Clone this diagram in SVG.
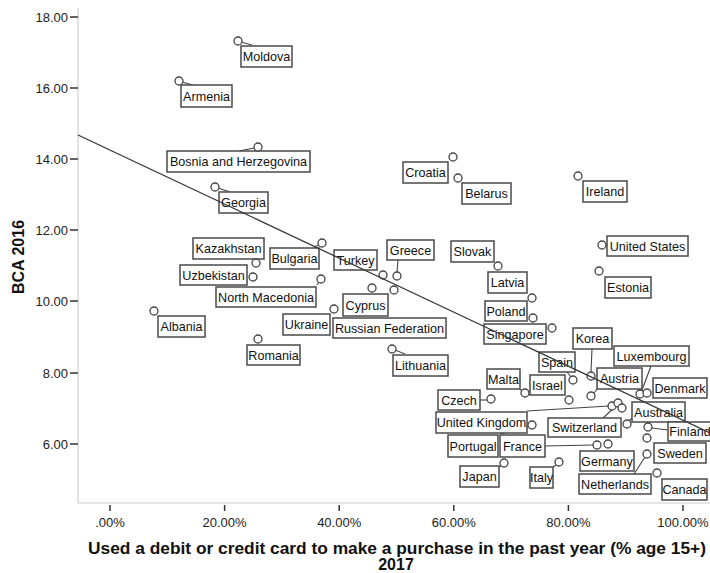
<svg xmlns="http://www.w3.org/2000/svg" width="710" height="573" viewBox="0 0 710 573">
<style>
.ax{stroke:#dcdcdc;stroke-width:1.6;fill:none}
.tk{stroke:#333;stroke-width:1.5}
.tl{font-family:"Liberation Sans",Arial,sans-serif;font-size:13px;fill:#222}
.lb rect{fill:#fff;stroke:#4a4a4a;stroke-width:1.5}
.lb text{font-family:"Liberation Sans",Arial,sans-serif;font-size:12.6px;fill:#111;text-anchor:middle}
.pt{fill:#fff;stroke:#444;stroke-width:1.3}
.ld{stroke:#444;stroke-width:1.1;fill:none}
.reg{stroke:#333;stroke-width:1.2;fill:none}
.tt{font-family:"Liberation Sans",Arial,sans-serif;font-weight:bold;font-size:16px;fill:#111}
</style>
<rect width="710" height="573" fill="#fff"/>
<g id="axes">
<line class="ax" x1="78" y1="8" x2="78" y2="503"/>
<line class="ax" x1="78" y1="503" x2="710" y2="503"/>
<g class="tk">
<line x1="70" y1="17" x2="78" y2="17"/><line x1="70" y1="88" x2="78" y2="88"/><line x1="70" y1="159" x2="78" y2="159"/><line x1="70" y1="230" x2="78" y2="230"/><line x1="70" y1="301" x2="78" y2="301"/><line x1="70" y1="373" x2="78" y2="373"/><line x1="70" y1="444" x2="78" y2="444"/>
<line x1="110" y1="505" x2="110" y2="511"/><line x1="224.6" y1="505" x2="224.6" y2="511"/><line x1="339.2" y1="505" x2="339.2" y2="511"/><line x1="453.8" y1="505" x2="453.8" y2="511"/><line x1="568.4" y1="505" x2="568.4" y2="511"/><line x1="683" y1="505" x2="683" y2="511"/>
</g>
<g class="tl" text-anchor="end">
<text x="68" y="21.5">18.00</text><text x="68" y="92.5">16.00</text><text x="68" y="163.5">14.00</text><text x="68" y="234.5">12.00</text><text x="68" y="305.5">10.00</text><text x="68" y="377.5">8.00</text><text x="68" y="448.5">6.00</text>
</g>
<g class="tl" text-anchor="middle">
<text x="110" y="527">.00%</text><text x="224.6" y="527">20.00%</text><text x="339.2" y="527">40.00%</text><text x="453.8" y="527">60.00%</text><text x="568.4" y="527">80.00%</text><text x="683" y="527">100.00%</text>
</g>
<text class="tt" transform="translate(24,257) rotate(-90)" text-anchor="middle">BCA 2016</text>
<text class="tt" x="397" y="554" text-anchor="middle" textLength="618" lengthAdjust="spacingAndGlyphs">Used a debit or credit card to make a purchase in the past year (% age 15+)</text>
<text class="tt" x="396" y="570" text-anchor="middle">2017</text>
</g>
<g id="connectors">
<line class="ld" x1="241" y1="42" x2="252" y2="45"/>
<line class="ld" x1="182" y1="82" x2="193" y2="85"/>
<line class="ld" x1="254" y1="148" x2="239" y2="151"/>
<line class="ld" x1="218" y1="188" x2="230" y2="192"/>
<line class="ld" x1="398" y1="260" x2="397" y2="272"/>
<line class="ld" x1="314" y1="247" x2="319" y2="245"/>
<line class="ld" x1="317" y1="285" x2="319" y2="282"/>
<line class="ld" x1="395" y1="350" x2="405" y2="354"/>
<line class="ld" x1="592" y1="349" x2="591" y2="372"/>
<line class="ld" x1="651" y1="366" x2="642" y2="390"/>
<line class="ld" x1="567" y1="372" x2="571" y2="377"/>
<line class="ld" x1="594" y1="393" x2="598" y2="388"/>
<line class="ld" x1="520" y1="389" x2="522" y2="391"/>
<line class="ld" x1="480" y1="400" x2="487" y2="400"/>
<line class="ld" x1="527" y1="411" x2="609" y2="406"/>
<line class="ld" x1="603" y1="418" x2="616" y2="406"/>
<line class="ld" x1="629" y1="421" x2="632" y2="418"/>
<line class="ld" x1="652" y1="428" x2="668" y2="430"/>
<line class="ld" x1="634" y1="474" x2="645" y2="457"/>
<line class="ld" x1="545" y1="446" x2="593" y2="445"/>
<line class="ld" x1="529" y1="427" x2="500" y2="434"/>
<line class="ld" x1="501" y1="466" x2="499" y2="467"/>
<line class="ld" x1="556" y1="465" x2="553" y2="467"/>
</g>
<g id="points">
<g id="moldova" class="lb"><rect x="241" y="46" width="51" height="21"/><text x="266.5" y="61">Moldova</text><circle class="pt" cx="238" cy="41" r="4"/></g>
<g id="armenia" class="lb"><rect x="181" y="85" width="51" height="22"/><text x="206.5" y="100.5">Armenia</text><circle class="pt" cx="179" cy="81" r="4"/></g>
<g id="bosnia" class="lb"><rect x="167" y="151" width="143" height="21"/><text x="238.5" y="166">Bosnia and Herzegovina</text><circle class="pt" cx="258" cy="147" r="4"/></g>
<g id="georgia" class="lb"><rect x="219" y="192" width="49" height="21"/><text x="243.5" y="207">Georgia</text><circle class="pt" cx="215" cy="187" r="4"/></g>
<g id="croatia" class="lb"><rect x="403" y="162" width="45" height="21"/><text x="425.5" y="177">Croatia</text><circle class="pt" cx="453" cy="157" r="4"/></g>
<g id="belarus" class="lb"><rect x="462" y="183" width="49" height="21"/><text x="486.5" y="198">Belarus</text><circle class="pt" cx="458" cy="178" r="4"/></g>
<g id="ireland" class="lb"><rect x="583" y="181" width="44" height="21"/><text x="605" y="196">Ireland</text><circle class="pt" cx="578" cy="176" r="4"/></g>
<g id="united-states" class="lb"><rect x="607" y="236" width="81" height="20"/><text x="647.5" y="250.5">United States</text><circle class="pt" cx="602" cy="245" r="4"/></g>
<g id="estonia" class="lb"><rect x="605" y="277" width="46" height="21"/><text x="628" y="292">Estonia</text><circle class="pt" cx="599" cy="271" r="4"/></g>
<g id="slovak" class="lb"><rect x="451" y="241" width="43" height="21"/><text x="472.5" y="256">Slovak</text><circle class="pt" cx="498" cy="266" r="4"/></g>
<g id="latvia" class="lb"><rect x="488" y="272" width="39" height="21"/><text x="507.5" y="287">Latvia</text><circle class="pt" cx="532" cy="298" r="4"/></g>
<g id="greece" class="lb"><rect x="387" y="240" width="47" height="20"/><text x="410.5" y="254.5">Greece</text><circle class="pt" cx="397" cy="276" r="4"/></g>
<g id="turkey" class="lb"><rect x="334" y="250" width="43" height="20"/><text x="355.5" y="264.5">Turkey</text><circle class="pt" cx="383" cy="275" r="4"/></g>
<g id="kazakhstan" class="lb"><rect x="193" y="238" width="71" height="21"/><text x="228.5" y="253">Kazakhstan</text><circle class="pt" cx="256" cy="263" r="4"/></g>
<g id="bulgaria" class="lb"><rect x="270" y="248" width="49" height="21"/><text x="294.5" y="263">Bulgaria</text><circle class="pt" cx="322" cy="243" r="4"/></g>
<g id="uzbekistan" class="lb"><rect x="180" y="265" width="67" height="20"/><text x="213.5" y="279.5">Uzbekistan</text><circle class="pt" cx="253" cy="277" r="4"/></g>
<g id="north-macedonia" class="lb"><rect x="216" y="287" width="100" height="20"/><text x="266" y="301.5">North Macedonia</text><circle class="pt" cx="321" cy="279" r="4"/></g>
<g id="albania" class="lb"><rect x="158" y="316" width="47" height="21"/><text x="181.5" y="331">Albania</text><circle class="pt" cx="154" cy="311" r="4"/></g>
<g id="romania" class="lb"><rect x="247" y="345" width="53" height="20"/><text x="273.5" y="359.5">Romania</text><circle class="pt" cx="258" cy="339" r="4"/></g>
<g id="ukraine" class="lb"><rect x="283" y="314" width="47" height="21"/><text x="306.5" y="329">Ukraine</text><circle class="pt" cx="334" cy="309" r="4"/></g>
<g id="cyprus" class="lb"><rect x="343" y="294" width="45" height="22"/><text x="365.5" y="309.5">Cyprus</text><circle class="pt" cx="372" cy="288" r="4"/></g>
<g id="russian-federation" class="lb"><rect x="333" y="318" width="113" height="20"/><text x="389.5" y="332.5">Russian Federation</text><circle class="pt" cx="394" cy="290" r="4"/></g>
<g id="lithuania" class="lb"><rect x="393" y="355" width="55" height="21"/><text x="420.5" y="370">Lithuania</text><circle class="pt" cx="392" cy="349" r="4"/></g>
<g id="poland" class="lb"><rect x="485" y="301" width="42" height="20"/><text x="506" y="315.5">Poland</text><circle class="pt" cx="533" cy="318" r="4"/></g>
<g id="singapore" class="lb"><rect x="484" y="324" width="62" height="20"/><text x="515" y="338.5">Singapore</text><circle class="pt" cx="552" cy="328" r="4"/></g>
<g id="korea" class="lb"><rect x="573" y="328" width="39" height="21"/><text x="592.5" y="343">Korea</text><circle class="pt" cx="591" cy="376" r="4"/></g>
<g id="luxembourg" class="lb"><rect x="614" y="346" width="75" height="20"/><text x="651.5" y="360.5">Luxembourg</text><circle class="pt" cx="640" cy="394" r="4"/></g>
<g id="spain" class="lb"><rect x="539" y="352" width="36" height="20"/><text x="557" y="366.5">Spain</text><circle class="pt" cx="573" cy="380" r="4"/></g>
<g id="austria" class="lb"><rect x="597" y="368" width="45" height="21"/><text x="619.5" y="383">Austria</text><circle class="pt" cx="591" cy="396" r="4"/></g>
<g id="denmark" class="lb"><rect x="653" y="378" width="54" height="20"/><text x="680" y="392.5">Denmark</text><circle class="pt" cx="647" cy="393" r="4"/></g>
<g id="malta" class="lb"><rect x="487" y="369" width="33" height="20"/><text x="503.5" y="383.5">Malta</text><circle class="pt" cx="525" cy="393" r="4"/></g>
<g id="israel" class="lb"><rect x="530" y="375" width="35" height="20"/><text x="547.5" y="389.5">Israel</text><circle class="pt" cx="569" cy="400" r="4"/></g>
<g id="czech" class="lb"><rect x="438" y="390" width="42" height="20"/><text x="459" y="404.5">Czech</text><circle class="pt" cx="491" cy="399" r="4"/></g>
<g id="united-kingdom" class="lb"><rect x="436" y="412" width="91" height="21"/><text x="481.5" y="427">United Kingdom</text><circle class="pt" cx="612" cy="406" r="4"/></g>
<g id="switzerland" class="lb"><rect x="548" y="418" width="73" height="19"/><text x="584.5" y="432">Switzerland</text><circle class="pt" cx="618" cy="403" r="4"/></g>
<g id="point-extra"><circle class="pt" cx="622" cy="408" r="4"/></g>
<g id="australia" class="lb"><rect x="632" y="402" width="53" height="20"/><text x="658.5" y="416.5">Australia</text><circle class="pt" cx="627" cy="424" r="4"/></g>
<g id="finland" class="lb"><rect x="668" y="422" width="44" height="19"/><text x="690" y="436">Finland</text><circle class="pt" cx="648" cy="427" r="4"/></g>
<g id="sweden" class="lb"><rect x="654" y="443" width="52" height="20"/><text x="680" y="457.5">Sweden</text><circle class="pt" cx="647" cy="438" r="4"/></g>
<g id="netherlands" class="lb"><rect x="579" y="474" width="72" height="20"/><text x="615" y="488.5">Netherlands</text><circle class="pt" cx="647" cy="454" r="4"/></g>
<g id="canada" class="lb"><rect x="662" y="479" width="45" height="21"/><text x="684.5" y="494">Canada</text><circle class="pt" cx="657" cy="473" r="4"/></g>
<g id="germany" class="lb"><rect x="580" y="451" width="54" height="20"/><text x="607" y="465.5">Germany</text><circle class="pt" cx="608" cy="444" r="4"/></g>
<g id="france" class="lb"><rect x="500" y="435" width="45" height="22"/><text x="522.5" y="450.5">France</text><circle class="pt" cx="597" cy="445" r="4"/></g>
<g id="portugal" class="lb"><rect x="448" y="435" width="50" height="22"/><text x="473" y="450.5">Portugal</text><circle class="pt" cx="532" cy="425" r="4"/></g>
<g id="japan" class="lb"><rect x="460" y="466" width="39" height="21"/><text x="479.5" y="481">Japan</text><circle class="pt" cx="504" cy="463" r="4"/></g>
<g id="italy" class="lb"><rect x="530" y="467" width="23" height="21"/><text x="541.5" y="482">Italy</text><circle class="pt" cx="559" cy="462" r="4"/></g>
</g>
<g id="fit-line">
<line class="reg" x1="78" y1="135" x2="710" y2="433"/>
</g>
</svg>
